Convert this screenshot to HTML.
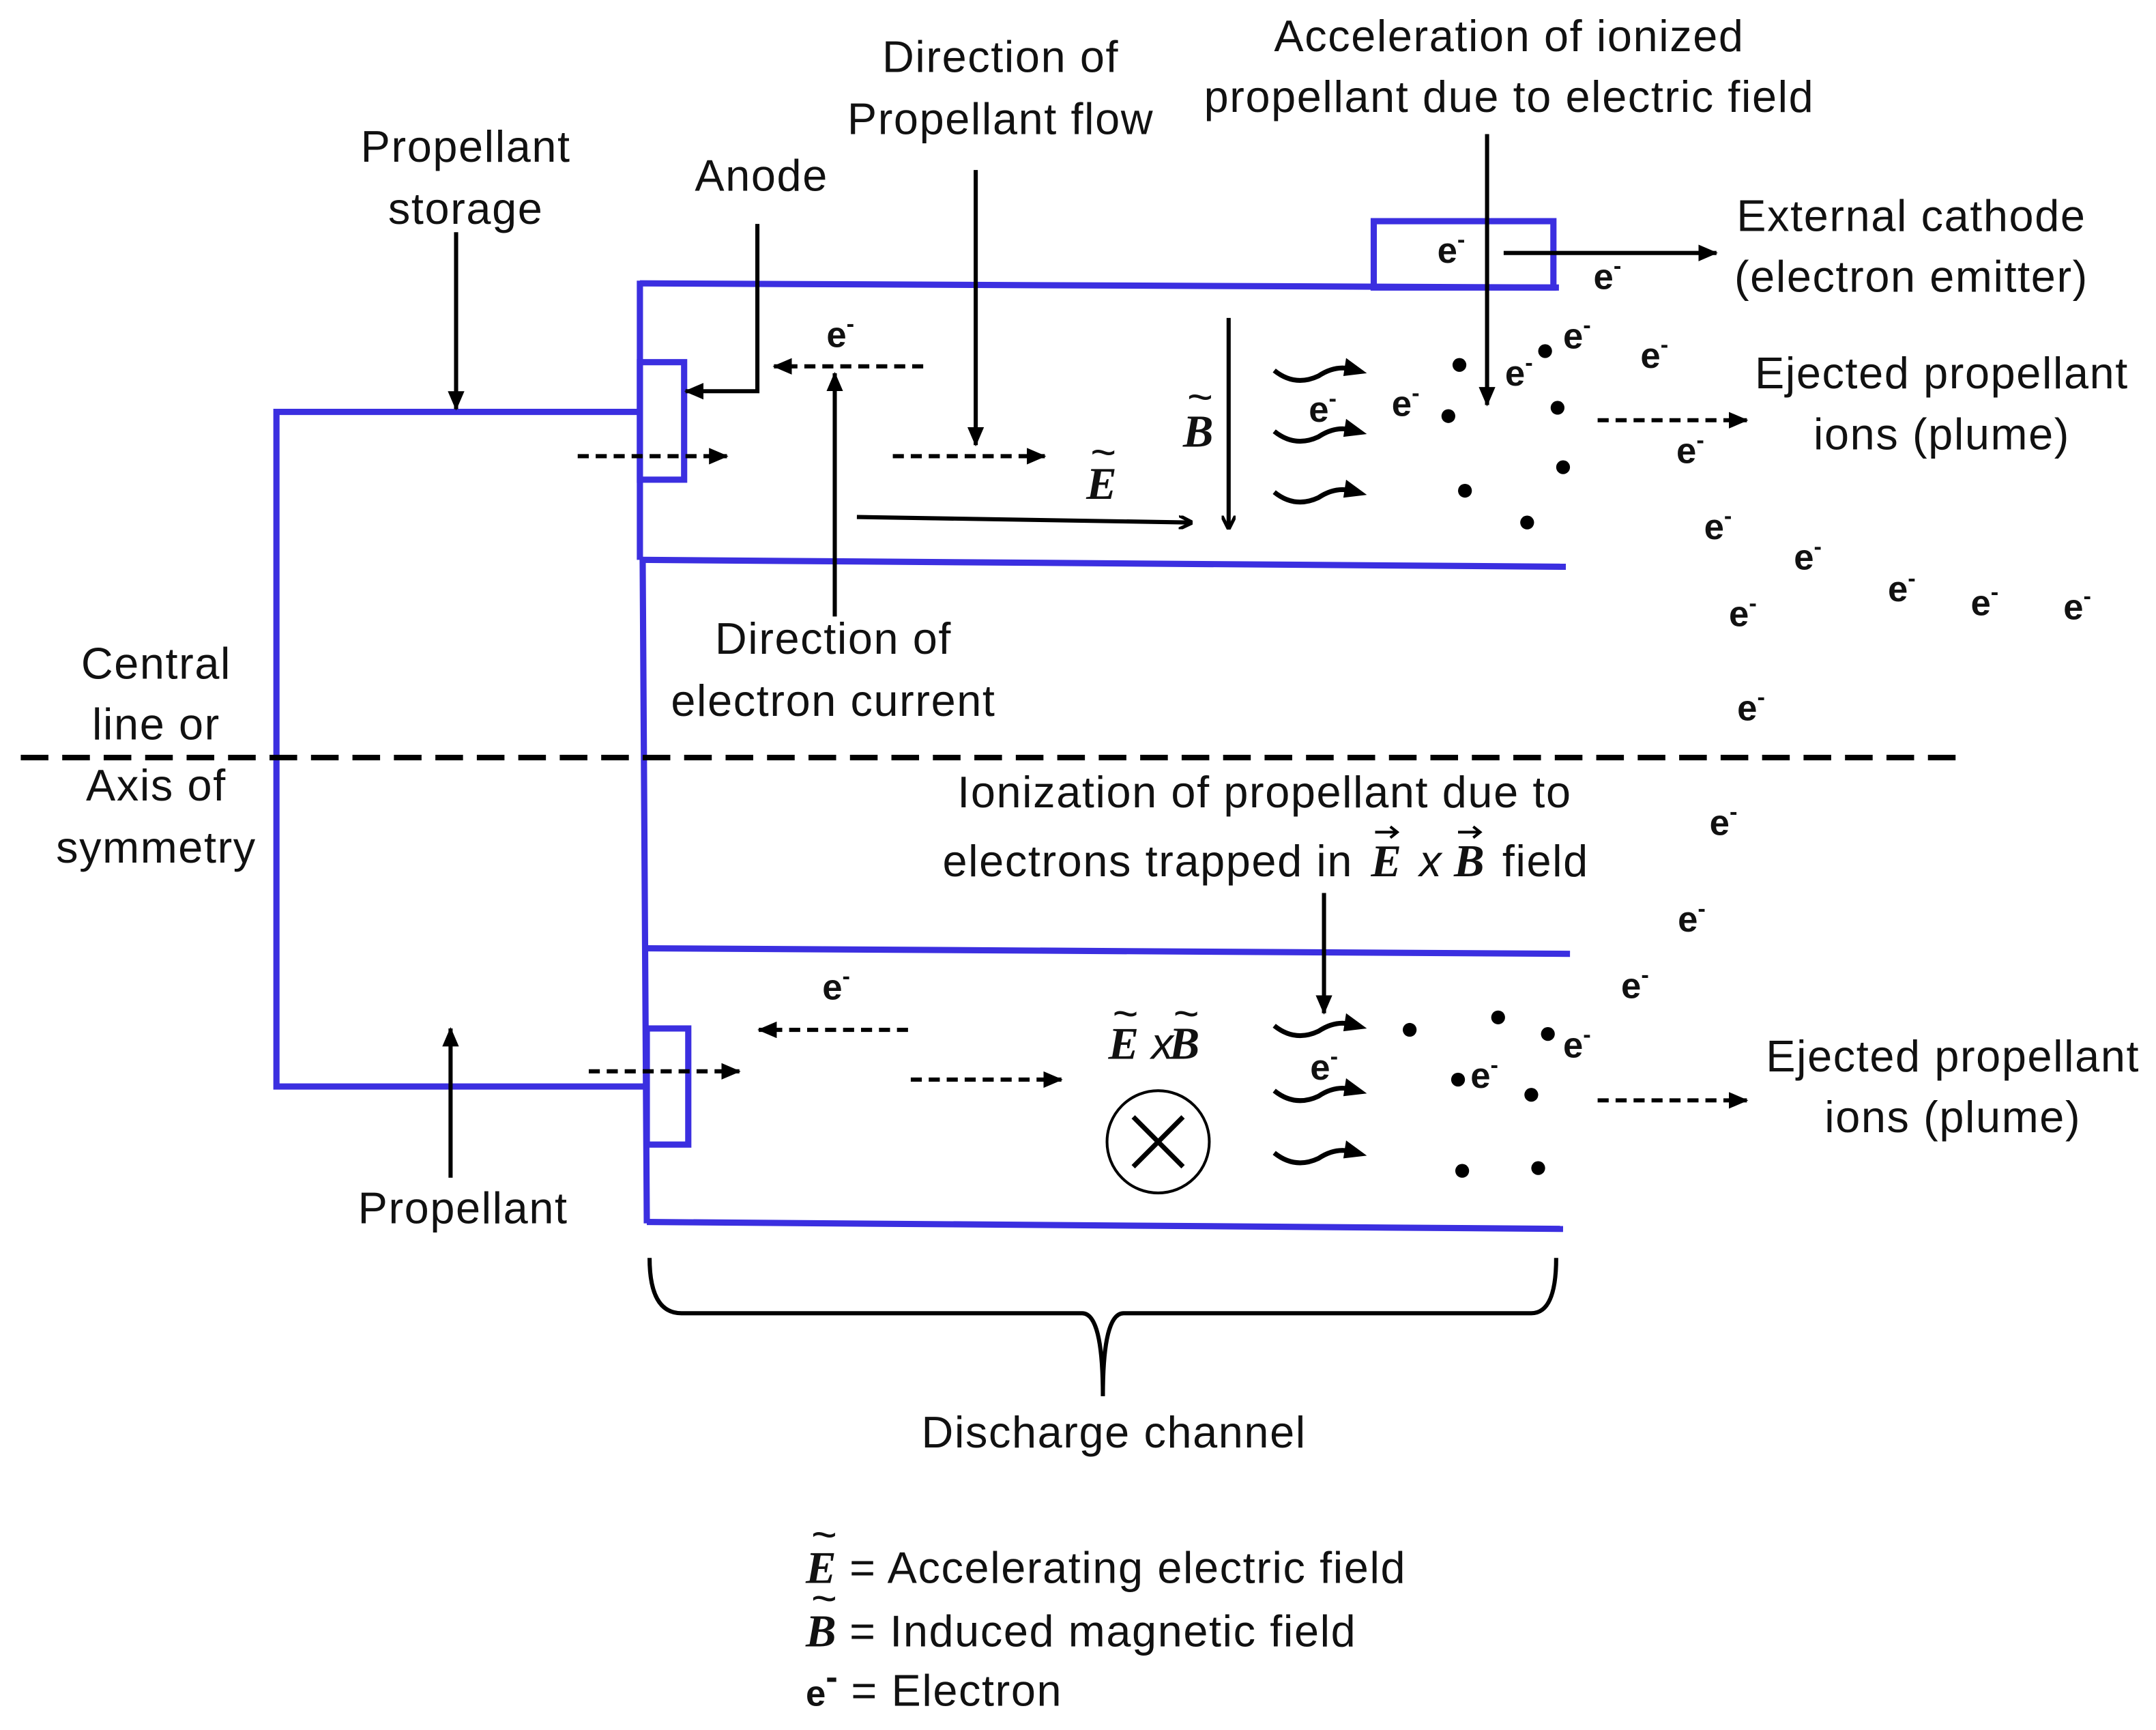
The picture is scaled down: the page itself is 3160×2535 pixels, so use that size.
<!DOCTYPE html>
<html><head><meta charset="utf-8"><style>
html,body{margin:0;padding:0;background:#fff}
svg{display:block}
text{font-family:"Liberation Sans",sans-serif;font-size:32px;letter-spacing:0.8px;fill:#111}
.b{stroke:#3b2fe0;stroke-width:4.5;fill:none}
.k{stroke:#000;stroke-width:3;fill:none}
.d{stroke:#000;stroke-width:3;fill:none;stroke-dasharray:8 5}
.e{font-weight:bold;font-size:26px;letter-spacing:0}
.m{font-family:"Liberation Serif",serif;font-style:italic;font-weight:bold;font-size:33px;letter-spacing:0}
</style></head><body>
<svg width="3160" height="2535" viewBox="0 0 1560 1251.5" xmlns="http://www.w3.org/2000/svg">
<defs>
<marker id="a" markerWidth="10" markerHeight="10" refX="9" refY="5" orient="auto" markerUnits="userSpaceOnUse"><path d="M0,0 L10,5 L0,10" fill="none" stroke="#000" stroke-width="2.5"/></marker>
<marker id="f" markerWidth="14" markerHeight="12" refX="13" refY="6" orient="auto" markerUnits="userSpaceOnUse"><path d="M0,0 L14,6 L0,12 z" fill="#000"/></marker>
<g id="w"><path d="M922,268 q15,12 32,4 q12,-8 24,-5" stroke="#000" stroke-width="3.5" fill="none"/><path d="M974,259 L989,270 L972,272 z" fill="#000"/></g>
</defs>

<path class="b" d="M463,298 L200,298 L200,786 L466,786"/>
<path class="b" d="M463,203 L463,405 M465,405 L468,885"/>
<path class="b" d="M463,205 L1128,208"/>
<path class="b" d="M463,405 L1133,410"/>
<rect class="b" x="994" y="160" width="130" height="48"/>
<rect class="b" x="463" y="262" width="32" height="85"/>
<rect class="b" x="468" y="744" width="30" height="84"/>
<path class="b" d="M468,686 L1136,690"/>
<path class="b" d="M468,884 L1131,889"/>

<path d="M15,548 L1420,548" stroke="#000" stroke-width="4" stroke-dasharray="20 10"/>

<path class="k" d="M470,910 Q470,950 493,950 L783,950 Q798,950 798,1010 Q798,950 813,950 L1108,950 Q1126,950 1126,910"/>

<text x="337" y="117" text-anchor="middle">Propellant</text>
<text x="337" y="162" text-anchor="middle">storage</text>
<text x="551" y="138" text-anchor="middle">Anode</text>
<text x="724" y="52" text-anchor="middle">Direction of</text>
<text x="724" y="97" text-anchor="middle">Propellant flow</text>
<text x="1092" y="37" text-anchor="middle">Acceleration of ionized</text>
<text x="1092" y="81" text-anchor="middle">propellant due to electric field</text>
<text x="1383" y="167" text-anchor="middle">External cathode</text>
<text x="1383" y="211" text-anchor="middle">(electron emitter)</text>
<text x="1405" y="281" text-anchor="middle">Ejected propellant</text>
<text x="1405" y="325" text-anchor="middle">ions (plume)</text>
<text x="603" y="473" text-anchor="middle">Direction of</text>
<text x="603" y="518" text-anchor="middle">electron current</text>
<text x="113" y="491" text-anchor="middle">Central</text>
<text x="113" y="535" text-anchor="middle">line or</text>
<text x="113" y="579" text-anchor="middle">Axis of</text>
<text x="113" y="624" text-anchor="middle">symmetry</text>
<text x="915" y="584" text-anchor="middle">Ionization of propellant due to</text>
<text x="682" y="634">electrons trapped in</text>
<text x="992" y="634" class="m">E</text>
<text x="1027" y="634" font-style="italic">x</text>
<text x="1052" y="634" class="m">B</text>
<text x="1087" y="634">field</text>
<path d="M995,602 l16,0 m-5,-4 l5,4 l-5,4 M1055,602 l16,0 m-5,-4 l5,4 l-5,4" stroke="#000" stroke-width="2" fill="none"/>
<text x="335" y="885" text-anchor="middle">Propellant</text>
<text x="1413" y="775" text-anchor="middle">Ejected propellant</text>
<text x="1413" y="819" text-anchor="middle">ions (plume)</text>
<text x="806" y="1047" text-anchor="middle">Discharge channel</text>

<text x="583" y="1145"><tspan class="m">E</tspan> = Accelerating electric field</text>
<text x="583" y="1191"><tspan class="m">B</tspan> = Induced magnetic field</text>
<text x="583" y="1234"><tspan class="e">e</tspan><tspan class="e" font-size="16" dy="-12">-</tspan><tspan dy="12"> = Electron</tspan></text>
<text x="587" y="1121" font-size="22">~</text>
<text x="587" y="1167" font-size="22">~</text>

<path class="k" marker-end="url(#f)" d="M330,168 L330,296"/>
<path class="k" marker-end="url(#f)" d="M548,162 L548,283 L496,283"/>
<path class="k" marker-end="url(#f)" d="M706,123 L706,322"/>
<path class="k" marker-end="url(#f)" d="M1076,97 L1076,293"/>
<path class="k" marker-end="url(#f)" d="M1088,183 L1242,183"/>
<path class="k" marker-end="url(#f)" d="M604,446 L604,270"/>
<path class="k" marker-end="url(#a)" d="M620,374 L862,378"/>
<path class="k" marker-end="url(#a)" d="M889,230 L889,382"/>
<path class="k" marker-end="url(#f)" d="M326,852 L326,744"/>
<path class="k" marker-end="url(#f)" d="M958,646 L958,733"/>

<path class="d" marker-end="url(#f)" d="M418,330 L526,330"/>
<path class="d" marker-end="url(#f)" d="M668,265 L560,265"/>
<path class="d" marker-end="url(#f)" d="M646,330 L756,330"/>
<path class="d" marker-end="url(#f)" d="M1156,304 L1264,304"/>
<path class="d" marker-end="url(#f)" d="M426,775 L535,775"/>
<path class="d" marker-end="url(#f)" d="M657,745 L549,745"/>
<path class="d" marker-end="url(#f)" d="M659,781 L768,781"/>
<path class="d" marker-end="url(#f)" d="M1156,796 L1264,796"/>

<text x="786" y="361" class="m">E</text><text x="789" y="338" font-size="20">~</text>
<text x="856" y="323" class="m">B</text><text x="859" y="298" font-size="20">~</text>
<text x="802" y="766" class="m">E</text><text x="805" y="744" font-size="20">~</text>
<text x="833" y="766" font-style="italic" font-family="Liberation Serif,serif">x</text>
<text x="846" y="766" class="m">B</text><text x="849" y="744" font-size="20">~</text>
<circle cx="838" cy="826" r="37" fill="none" stroke="#000" stroke-width="2"/>
<path d="M820,808 L856,844 M856,808 L820,844" stroke="#000" stroke-width="3.5"/>

<use href="#w"/><use href="#w" y="44"/><use href="#w" y="88"/>
<use href="#w" y="474"/><use href="#w" y="521"/><use href="#w" y="566"/>

<g fill="#000">
<circle cx="1056" cy="264" r="5"/><circle cx="1048" cy="301" r="5"/><circle cx="1060" cy="355" r="5"/>
<circle cx="1118" cy="254" r="5"/><circle cx="1127" cy="295" r="5"/><circle cx="1131" cy="338" r="5"/><circle cx="1105" cy="378" r="5"/>
<circle cx="1020" cy="745" r="5"/><circle cx="1084" cy="736" r="5"/><circle cx="1120" cy="748" r="5"/><circle cx="1055" cy="781" r="5"/><circle cx="1108" cy="792" r="5"/><circle cx="1058" cy="847" r="5"/><circle cx="1113" cy="845" r="5"/>
</g>

<g>
<text class="e" x="1040" y="190">e<tspan font-size="17" dy="-11">-</tspan></text>
<text class="e" x="1153" y="209">e<tspan font-size="17" dy="-11">-</tspan></text>
<text class="e" x="598" y="251">e<tspan font-size="17" dy="-11">-</tspan></text>
<text class="e" x="1131" y="252">e<tspan font-size="17" dy="-11">-</tspan></text>
<text class="e" x="1187" y="266">e<tspan font-size="17" dy="-11">-</tspan></text>
<text class="e" x="1089" y="279">e<tspan font-size="17" dy="-11">-</tspan></text>
<text class="e" x="1007" y="301">e<tspan font-size="17" dy="-11">-</tspan></text>
<text class="e" x="947" y="305">e<tspan font-size="17" dy="-11">-</tspan></text>
<text class="e" x="1213" y="335">e<tspan font-size="17" dy="-11">-</tspan></text>
<text class="e" x="1233" y="390">e<tspan font-size="17" dy="-11">-</tspan></text>
<text class="e" x="1298" y="412">e<tspan font-size="17" dy="-11">-</tspan></text>
<text class="e" x="1366" y="435">e<tspan font-size="17" dy="-11">-</tspan></text>
<text class="e" x="1426" y="445">e<tspan font-size="17" dy="-11">-</tspan></text>
<text class="e" x="1493" y="448">e<tspan font-size="17" dy="-11">-</tspan></text>
<text class="e" x="1251" y="453">e<tspan font-size="17" dy="-11">-</tspan></text>
<text class="e" x="1257" y="521">e<tspan font-size="17" dy="-11">-</tspan></text>
<text class="e" x="1237" y="604">e<tspan font-size="17" dy="-11">-</tspan></text>
<text class="e" x="1214" y="674">e<tspan font-size="17" dy="-11">-</tspan></text>
<text class="e" x="1173" y="722">e<tspan font-size="17" dy="-11">-</tspan></text>
<text class="e" x="595" y="723">e<tspan font-size="17" dy="-11">-</tspan></text>
<text class="e" x="1131" y="765">e<tspan font-size="17" dy="-11">-</tspan></text>
<text class="e" x="948" y="781">e<tspan font-size="17" dy="-11">-</tspan></text>
<text class="e" x="1064" y="787">e<tspan font-size="17" dy="-11">-</tspan></text>
</g>
</svg>
</body></html>
